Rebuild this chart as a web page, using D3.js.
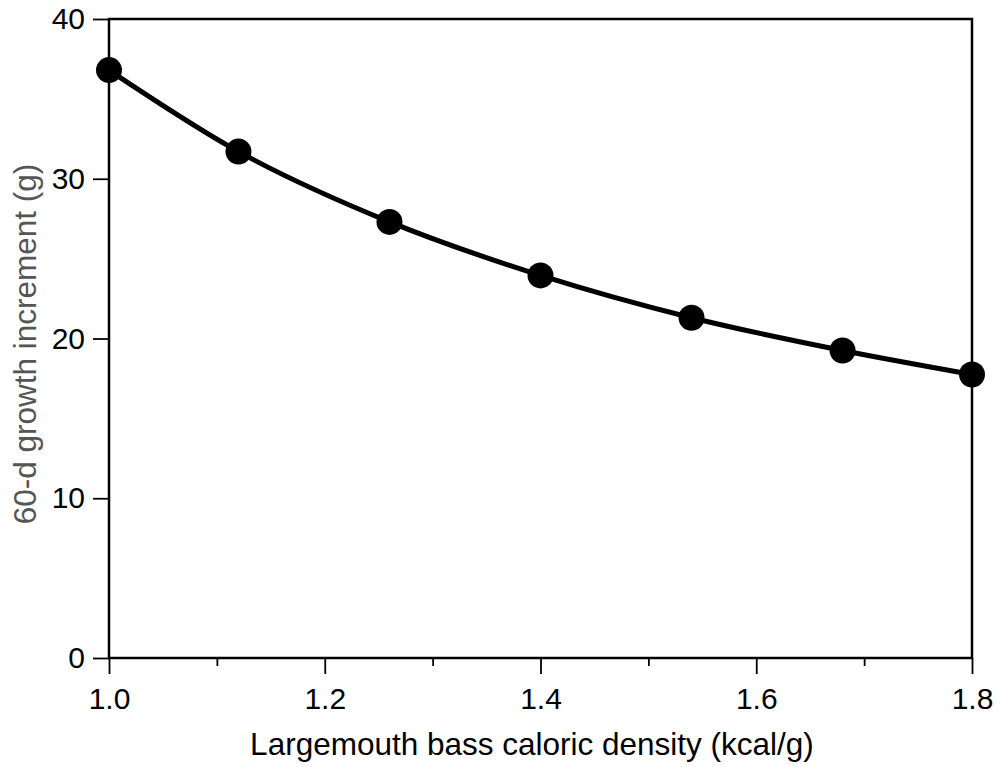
<!DOCTYPE html>
<html><head><meta charset="utf-8">
<script src="https://cdn.jsdelivr.net/npm/d3@7"></script>
<style>body{margin:0;background:#fff}svg{display:block}text{font-family:"Liberation Sans",Arial,sans-serif}</style>
</head><body>
<svg id="c" width="999" height="767"></svg>
<script>
const density = [1.0, 1.12, 1.26, 1.4, 1.54, 1.68, 1.8];
const growth = [36.8, 31.7, 27.3, 23.95, 21.3, 19.25, 17.75];
const xTicks = [1.0, 1.2, 1.4, 1.6, 1.8];
const xMinor = [1.1, 1.3, 1.5, 1.7];
const yTicks = [0, 10, 20, 30, 40];

const svg = d3.select("#c");
const L = 109, R = 972, T = 19, B = 658;
const x = d3.scaleLinear().domain([1.0, 1.8]).range([L, R]);
const y = d3.scaleLinear().domain([0, 40]).range([B, T]);

// frame
svg.append("rect").attr("x", L).attr("y", T).attr("width", R - L).attr("height", B - T)
  .attr("fill", "none").attr("stroke", "#000").attr("stroke-width", 2.5);

// x axis
const xa = svg.append("g").attr("transform", `translate(0,${B})`)
  .call(d3.axisBottom(x).tickValues(xTicks).tickFormat(d3.format(".1f")).tickSize(16).tickPadding(14));
xa.attr("font-size", null).attr("font-family", null);
xa.select(".domain").remove();
xa.selectAll("line").attr("stroke-width", 1.8);
xa.selectAll("text").style("font-size", "30px").attr("fill", "#000");
svg.append("g").attr("transform", `translate(0,${B})`)
  .call(d3.axisBottom(x).tickValues(xMinor).tickFormat("").tickSize(8))
  .call(g => g.select(".domain").remove())
  .selectAll("line").attr("stroke-width", 1.8);

// y axis
const ya = svg.append("g").attr("transform", `translate(${L},0)`)
  .call(d3.axisLeft(y).tickValues(yTicks).tickSize(16).tickPadding(8));
ya.attr("font-size", null).attr("font-family", null);
ya.select(".domain").remove();
ya.selectAll("line").attr("stroke-width", 1.8);
ya.selectAll("text").style("font-size", "30px").attr("fill", "#000");

// labels
svg.append("text").attr("x", 532).attr("y", 755).attr("text-anchor", "middle")
  .style("font-size", "31.5px").attr("fill", "#000").text("Largemouth bass caloric density (kcal/g)");
svg.append("text").attr("transform", `translate(36,344) rotate(-90)`)
  .attr("text-anchor", "middle").style("font-size", "31.5px").attr("fill", "#555")
  .text("60-d growth increment (g)");

// curve
const data = density.map((d, i) => ({x: d, y: growth[i]}));
svg.append("path").datum(data)
  .attr("d", d3.line().x(d => x(d.x)).y(d => y(d.y)).curve(d3.curveMonotoneX))
  .attr("fill", "none").attr("stroke", "#000").attr("stroke-width", 5);
svg.selectAll("circle.pt").data(data).join("circle").attr("class", "pt")
  .attr("cx", d => x(d.x)).attr("cy", d => y(d.y)).attr("r", 13).attr("fill", "#000");
</script>
</body></html>
